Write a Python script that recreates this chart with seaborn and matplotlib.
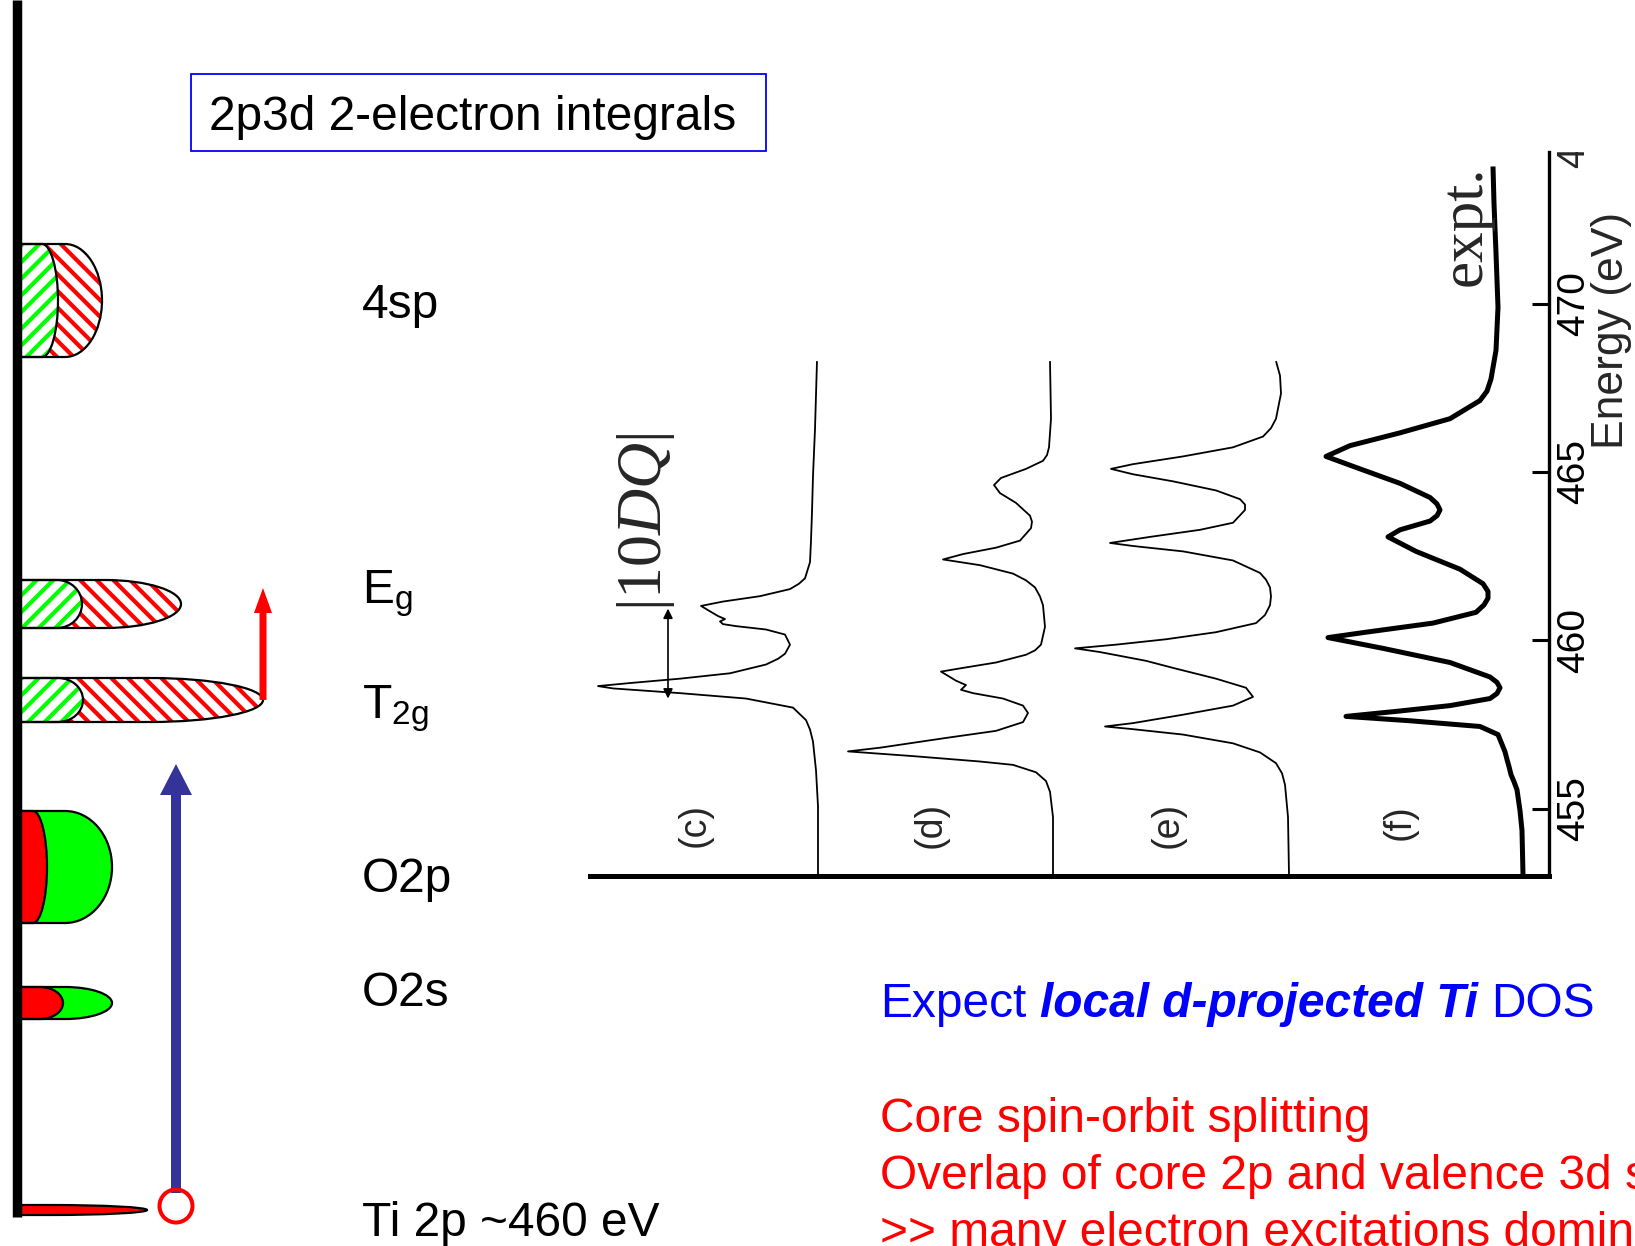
import matplotlib
matplotlib.use("Agg")
import matplotlib.pyplot as plt
import seaborn as sns
import pandas as pd
from matplotlib.path import Path
from matplotlib.patches import PathPatch, Rectangle, Circle
from matplotlib.transforms import (Bbox, TransformedBbox,
                                   blended_transform_factory, ScaledTranslation)

# ---------------- Ti L2,3 edge spectra (energy in eV, intensity in arb. units) ----------------
energy_c = [453.05, 455.07, 456.14, 456.99, 457.35, 457.63, 458.00, 458.27, 458.43, 458.57,
            458.64, 458.73, 458.86, 459.02, 459.28, 459.45, 459.60, 459.87, 460.17, 460.32,
            460.42, 460.48, 460.56, 460.63, 460.72, 460.86, 461.02, 461.15, 461.31, 461.52,
            461.68, 461.84, 462.32, 462.96, 463.81, 464.88, 466.27, 468.29]
intensity_c = [0.00, 0.00, 0.02, 0.05, 0.08, 0.12, 0.25, 0.72, 1.38, 2.05,
               2.20, 1.88, 1.38, 0.88, 0.52, 0.40, 0.33, 0.28, 0.33, 0.52,
               0.82, 0.95, 0.98, 0.93, 1.00, 1.08, 1.17, 0.95, 0.58, 0.28,
               0.19, 0.13, 0.08, 0.07, 0.06, 0.05, 0.03, 0.01]

energy_d = [453.05, 454.75, 455.50, 455.82, 456.08, 456.30, 456.40, 456.56, 456.70, 456.81,
            457.10, 457.31, 457.57, 457.84, 458.06, 458.27, 458.43, 458.53, 458.67, 458.80,
            459.07, 459.18, 459.34, 459.57, 459.70, 459.87, 460.40, 461.04, 461.30, 461.57,
            461.78, 461.98, 462.23, 462.40, 462.56, 462.75, 462.96, 463.33, 463.52, 463.70,
            464.08, 464.37, 464.61, 464.82, 465.09, 465.33, 465.50, 465.73, 466.58, 468.29]
intensity_d = [0.00, 0.00, 0.03, 0.07, 0.17, 0.40, 0.73, 1.40, 2.05, 1.73,
               1.07, 0.57, 0.30, 0.25, 0.30, 0.50, 0.80, 0.92, 0.87, 0.97,
               1.12, 0.90, 0.57, 0.27, 0.18, 0.12, 0.08, 0.10, 0.13, 0.18,
               0.27, 0.40, 0.73, 1.10, 0.90, 0.57, 0.33, 0.22, 0.21, 0.23,
               0.37, 0.53, 0.59, 0.52, 0.27, 0.10, 0.06, 0.04, 0.02, 0.03]

energy_e = [453.05, 454.75, 455.71, 456.05, 456.35, 456.67, 456.94, 457.20, 457.36, 457.44,
            457.54, 457.79, 458.06, 458.32, 458.59, 458.86, 459.18, 459.39, 459.65, 459.76,
            459.87, 460.03, 460.24, 460.51, 460.75, 461.04, 461.30, 461.57, 461.80, 462.00,
            462.37, 462.64, 462.80, 462.89, 463.07, 463.28, 463.49, 463.87, 464.03, 464.19,
            464.45, 464.72, 464.93, 465.09, 465.23, 465.46, 465.73, 466.05, 466.30, 466.58,
            467.33, 467.86, 468.29]
intensity_e = [0.00, 0.01, 0.04, 0.07, 0.13, 0.29, 0.56, 1.06, 1.56, 1.84,
               1.56, 1.06, 0.56, 0.36, 0.43, 0.73, 1.16, 1.43, 1.89, 2.14,
               1.73, 1.23, 0.73, 0.33, 0.24, 0.19, 0.18, 0.19, 0.23, 0.29,
               0.56, 1.06, 1.56, 1.79, 1.39, 0.89, 0.56, 0.44, 0.44, 0.49,
               0.73, 1.16, 1.56, 1.78, 1.56, 1.06, 0.56, 0.26, 0.18, 0.13,
               0.08, 0.09, 0.13]

energy_expt = [453.03, 454.35, 454.94, 455.56, 455.80, 456.01, 456.25, 456.46, 456.69, 457.20,
               457.44, 457.61, 457.74, 457.90, 458.06, 458.27, 458.42, 458.59, 458.75, 458.91,
               459.34, 459.76, 460.08, 460.24, 460.51, 460.83, 461.05, 461.25, 461.45, 461.68,
               462.11, 462.64, 463.07, 463.28, 463.54, 463.70, 463.87, 464.05, 464.24, 464.66,
               465.09, 465.46, 465.78, 466.16, 466.58, 467.12, 467.40, 467.76, 468.61, 469.89,
               471.50, 472.97, 474.07]
intensity_expt = [0.00, 0.01, 0.03, 0.06, 0.09, 0.12, 0.14, 0.16, 0.18, 0.25,
                  0.43, 1.13, 1.77, 1.23, 0.73, 0.33, 0.26, 0.23, 0.26, 0.33,
                  0.73, 1.40, 1.95, 1.57, 0.90, 0.47, 0.39, 0.35, 0.35, 0.40,
                  0.63, 1.07, 1.35, 1.23, 0.93, 0.86, 0.83, 0.86, 0.93, 1.23,
                  1.63, 1.97, 1.73, 1.23, 0.73, 0.43, 0.36, 0.32, 0.27, 0.25,
                  0.27, 0.29, 0.30]

baseline_offsets = [7.31, 4.96, 2.60, 0.26]
spectrum_labels = ["(c)", "(d)", "(e)", "(f)"]
energy_ticks = [455, 460, 465, 470, 475]

# ---------------- schematic density of states ----------------
level_names = ["4sp", "E$_{\\mathrm{g}}$", "T$_{\\mathrm{2g}}$", "O2p", "O2s", "Ti 2p ~460 eV"]
level_top = [244, 580, 678, 811, 987, 1205]
level_bottom = [357, 628, 722, 923, 1019, 1215]
outer_flat = [65, 105, 150, 65, 65, 50]
outer_reach = [102, 181, 263, 112, 112, 147]
inner_flat = [42, 57, 58, 33, 40, None]
inner_reach = [58, 82, 83, 47, 63, None]

outer_color = ["red", "red", "red", "lime", "lime", "red"]
inner_color = ["lime", "lime", "lime", "red", "red", None]
hatched = [True, True, True, False, False, False]
label_baseline = [318, 603, 718, 892, 1006, 1236]

# ---------------- style ----------------
sns.set_theme(style="white")
plt.rcParams["font.family"] = ["Liberation Sans", "DejaVu Sans"]
plt.rcParams["mathtext.fontset"] = "custom"
plt.rcParams["mathtext.rm"] = "Liberation Sans"
plt.rcParams["mathtext.it"] = "Liberation Serif:italic"
plt.rcParams["mathtext.sf"] = "Liberation Serif"
plt.rcParams["hatch.linewidth"] = 3.0

W, H = 1635, 1246
fig = plt.figure(figsize=(W / 100, H / 100), dpi=100, facecolor="white")

# page layer measured in pixels (y downwards)
page = fig.add_axes([0, 0, 1, 1], zorder=0)
page.set_xlim(0, W)
page.set_ylim(H, 0)
page.axis("off")

TXT = 34.5


def level_path(top, bottom, flat, reach, left=16):
    mid = 0.5 * (top + bottom)
    a = reach - flat
    b = 0.5 * (bottom - top)
    k = 0.5523
    verts = [(left, top), (flat, top), (flat + k * a, top), (reach, mid - k * b), (reach, mid),
             (reach, mid + k * b), (flat + k * a, bottom), (flat, bottom), (left, bottom), (left, top)]
    codes = [Path.MOVETO, Path.LINETO, Path.CURVE4, Path.CURVE4, Path.CURVE4,
             Path.CURVE4, Path.CURVE4, Path.CURVE4, Path.LINETO, Path.CLOSEPOLY]
    return Path(verts, codes)


def add_blob(path, color, hatch):
    if hatch:
        page.add_patch(PathPatch(path, facecolor="white", edgecolor=color, hatch=hatch,
                                 lw=0, zorder=2))
    else:
        page.add_patch(PathPatch(path, facecolor=color, edgecolor="none", zorder=2))
    page.add_patch(PathPatch(path, facecolor="none", edgecolor="black", lw=1.6, zorder=3))


for i in range(len(level_names)):
    outer = level_path(level_top[i], level_bottom[i], outer_flat[i], outer_reach[i])
    add_blob(outer, outer_color[i], "\\\\" if hatched[i] else None)
    if inner_color[i] is not None:
        inner = level_path(level_top[i], level_bottom[i], inner_flat[i], inner_reach[i])
        add_blob(inner, inner_color[i], "//" if hatched[i] else None)
    page.text(362, label_baseline[i], level_names[i], fontsize=TXT, va="baseline",
              ha="left", color="black")

# energy axis bar
page.plot([17, 17], [0, 1217], color="black", lw=6.8, solid_capstyle="butt", zorder=5)

# excitation arrows
page.arrow(263, 700, 0, -112, width=7, head_width=18, head_length=25,
           length_includes_head=True, color="red", lw=0, zorder=4)
page.arrow(176, 1193, 0, -429, width=10, head_width=32, head_length=31,
           length_includes_head=True, color="#333399", lw=0, zorder=4)
page.add_patch(Circle((176, 1206), 16.5, fill=False, edgecolor="red", lw=2.9, zorder=5))

# title box
page.add_patch(Rectangle((191, 74), 575, 77, fill=False, edgecolor="#0000FF", lw=1.3, zorder=3))
page.text(209, 130, "2p3d 2-electron integrals", fontsize=TXT, va="baseline", color="black")

# ---------------- spectra panel ----------------
left_px, right_px, top_px, bottom_px = 590, 1549, 152, 876
ax = fig.add_axes([left_px / W, 1 - bottom_px / H, (right_px - left_px) / W,
                   (bottom_px - top_px) / H], zorder=2)
ax.patch.set_visible(False)

spectra = [(energy_c, intensity_c, 1.3), (energy_d, intensity_d, 1.3),
           (energy_e, intensity_e, 1.3), (energy_expt, intensity_expt, 3.6)]
for (E, I, lw), off in zip(spectra, baseline_offsets):
    df = pd.DataFrame({"energy": E, "intensity": [off + v for v in I]})
    sns.lineplot(data=df, x="intensity", y="energy", orient="y", sort=False,
                 estimator=None, color="black", lw=lw, ax=ax,
                 solid_joinstyle="round", solid_capstyle="butt")

ax.set_xlim(9.59, 0)
ax.set_ylim(453.0, 474.5)
ax.set_xlabel("")
ax.set_ylabel("")
ax.set_xticks([])
ax.set_yticks(energy_ticks[:-1])
ax.yaxis.tick_right()
ax.tick_params(axis="y", direction="in", length=12, width=2.2, pad=5, labelsize=28,
               labelrotation=90, right=True, left=False, labelright=True, labelleft=False,
               colors="black")
for lbl in ax.get_yticklabels():
    lbl.set_va("center")
for side in ("left", "top"):
    ax.spines[side].set_visible(False)
ax.spines["bottom"].set_linewidth(3.6)
ax.spines["bottom"].set_color("black")
ax.spines["right"].set_linewidth(2.4)
ax.spines["right"].set_color("black")

# topmost energy label, cut by the panel edge
lbl_tr = blended_transform_factory(ax.transAxes, ax.transData) + \
    ScaledTranslation(5 / 72, 0, fig.dpi_scale_trans)
top_lbl = ax.text(1.0, energy_ticks[-1], str(energy_ticks[-1]), transform=lbl_tr,
                  rotation=90, ha="left", va="center", fontsize=28, clip_on=True)
top_lbl.set_clip_box(TransformedBbox(Bbox.from_extents(0, 0, 1, 1 - top_px / H), fig.transFigure))

page.text(1612, 330, "Energy (eV)", rotation=90, ha="center", va="center", fontsize=32)

label_pos = [(8.54, 454.52), (6.18, 454.52), (3.81, 454.52), (1.49, 454.6)]
for (x, y), s in zip(label_pos, spectrum_labels):
    ax.text(x, y, s, rotation=90, ha="center", va="center", fontsize=27)
ax.text(0.83, 472.31, "expt.", rotation=90, ha="center", va="center", fontsize=44,
        family="Liberation Serif")
ax.text(9.03, 463.52, r"$\mathsf{|10}DQ\mathsf{|}$", rotation=90, ha="center",
        va="center", fontsize=46)
ax.annotate("", xy=(8.81, 460.94), xytext=(8.81, 458.27),
            arrowprops=dict(arrowstyle="<|-|>", lw=1.2, color="black",
                            mutation_scale=14, shrinkA=0, shrinkB=0))

# ---------------- notes ----------------
renderer = fig.canvas.get_renderer()
space = 0.278 * TXT * 100 / 72
t1 = page.text(880, 1017, "Expect", fontsize=TXT, color="#0000FF", va="baseline")
x1 = t1.get_window_extent(renderer).x1
t2 = page.text(x1 + space, 1017, "local d-projected Ti", fontsize=TXT, color="#0000FF",
               va="baseline", fontweight="bold", fontstyle="italic")
x2 = t2.get_window_extent(renderer).x1
page.text(x2 + space, 1017, "DOS", fontsize=TXT, color="#0000FF", va="baseline")

notes = ["Core spin-orbit splitting",
         "Overlap of core 2p and valence 3d states",
         ">> many electron excitations dominate"]
for s, yb in zip(notes, [1132, 1189, 1246]):
    page.text(880, yb, s, fontsize=TXT, color="#FF0000", va="baseline")

fig.savefig("out.png", dpi=100, facecolor="white")
